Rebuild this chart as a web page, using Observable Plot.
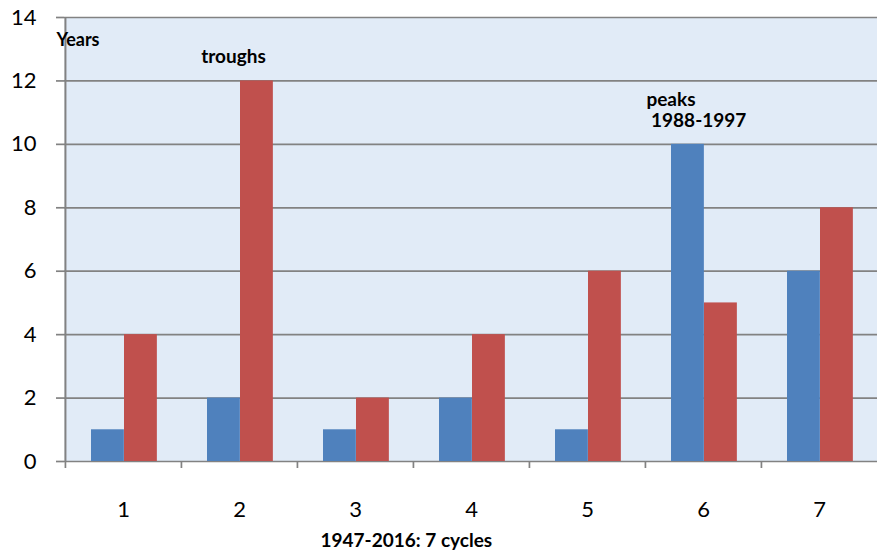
<!DOCTYPE html>
<html>
<head>
<meta charset="utf-8">
<script src="https://cdn.jsdelivr.net/npm/d3@7"></script>
<script src="https://cdn.jsdelivr.net/npm/@observablehq/plot@0.6"></script>
<style>
  html, body { margin: 0; padding: 0; background: #fff; }
  svg { display: block; }
</style>
</head>
<body>
<div id="chart"></div>
<script>
const cycles = [1, 2, 3, 4, 5, 6, 7];
const peaks = [1, 2, 1, 2, 1, 10, 6];
const troughs = [4, 12, 2, 4, 6, 5, 8];
const yTicks = [0, 2, 4, 6, 8, 10, 12, 14];
const yLabel = "Years";
const xLabel = "1947-2016: 7 cycles";
const troughNote = { cycle: 2, value: 12.75, text: "troughs" };
const peakNote = { cycle: 6, value: 11.1, text: "peaks\n 1988-1997" };

const data = cycles.map((c, i) => ({ cycle: c, peaks: peaks[i], troughs: troughs[i] }));

const W = 877, H = 553;
const mL = 64, mR = 0, mT = 17, mB = 92;
const bw = (W - mL - mR) / cycles.length;
const barW = 33;
const gapL = 26;

const font = "Lato, 'Open Sans', sans-serif";
const gridColor = "#828282";

const chart = Plot.plot({
  width: W,
  height: H,
  marginLeft: mL,
  marginRight: mR,
  marginTop: mT,
  marginBottom: mB,
  style: { fontFamily: font, background: "#fff", color: "#000" },
  x: { type: "band", domain: cycles, padding: 0, axis: null },
  y: { domain: [0, 14], axis: null },
  marks: [
    Plot.frame({ fill: "#e1ebf7", stroke: null }),
    Plot.gridY(yTicks, { stroke: gridColor, strokeOpacity: 1, strokeWidth: 1.7 }),
    Plot.barY(data, { x: "cycle", y: "peaks", fill: "#4f81bd", insetLeft: gapL, insetRight: bw - gapL - barW }),
    Plot.barY(data, { x: "cycle", y: "troughs", fill: "#c0504d", insetLeft: gapL + barW, insetRight: bw - gapL - 2 * barW }),
    Plot.ruleX([cycles[0]], { dx: -bw / 2, stroke: gridColor, strokeWidth: 2 }),
    Plot.axisY({ ticks: yTicks, tickSize: 8, tickPadding: 20, fontSize: 22, stroke: gridColor, strokeWidth: 1.7, label: null }),
    Plot.axisX({ ticks: cycles, tickSize: 7, tickFormat: () => "", dx: -bw / 2, stroke: gridColor, strokeWidth: 1.7, label: null }),
    Plot.axisX({ ticks: cycles, tickSize: 0, tickPadding: 40, fontSize: 22, label: null }),
    Plot.text([yLabel], { frameAnchor: "top-left", textAnchor: "start", dx: -8, dy: 16, fontSize: 18, fontWeight: "bold", fill: "#000" }),
    Plot.text([troughNote], { x: "cycle", y: "value", text: "text", dx: -6, fontSize: 19, fontWeight: "bold", fill: "#000" }),
    Plot.text([peakNote], { x: "cycle", y: "value", text: "text", textAnchor: "start", dx: -bw / 2 + 1, lineHeight: 1.15, fontSize: 19, fontWeight: "bold", fill: "#000" }),
    Plot.text([xLabel], { frameAnchor: "bottom-left", textAnchor: "start", dx: 256, dy: 85, fontSize: 19, fontWeight: "bold", fill: "#000" })
  ]
});

document.getElementById("chart").appendChild(chart);
</script>
</body>
</html>
